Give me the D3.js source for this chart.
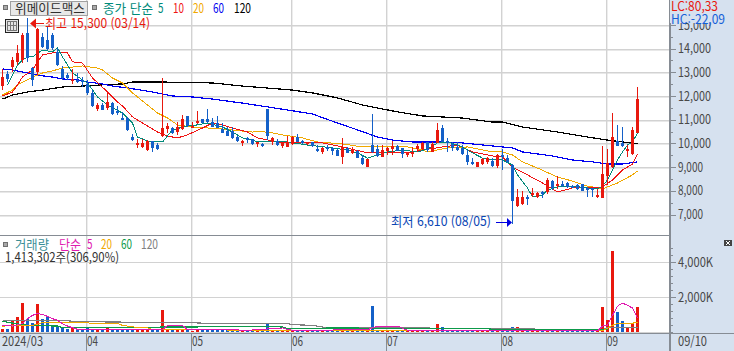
<!DOCTYPE html>
<html lang="ko">

<head>
    <meta charset="UTF-8">
    <title>위메이드맥스</title>
    <script src="https://d3js.org/d3.v7.min.js"></script>
    <style>
        html, body { margin: 0; padding: 0; background: #fff; overflow: hidden; }
        svg { display: block; }
        text { font-family: "Noto Sans CJK KR", sans-serif; font-size: 13px; }
    </style>
</head>

<body>
    <div id="chart"></div>
    <script>
        // candles, one entry per trading day
        const opens = [
            12420, 12930, 13220, 13440, 13520, 14660, 13180, 13010, 14490, 14360,
            14580, 13860, 13140, 12890, 12630, 12680, 12680, 12510, 12130, 11450,
            11620, 11490, 11710, 11370, 11070, 11070, 10270, 9980, 9850, 9720,
            10100, 9930, 10310, 10610, 10650, 10480, 10610, 11160, 10690, 10860,
            11030, 11030, 10900, 10860, 10610, 10520, 10520, 10270, 10060, 10230,
            10190, 10020, 9980, 11450, 10060, 10100, 9890, 9850, 9980, 10270,
            10100, 9980, 10060, 9760, 9640, 9850, 9810, 9720, 9430, 9810,
            9600, 9680, 9380, 9010, 9930, 9760, 9430, 9680, 9760, 9890,
            9810, 9510, 9600, 9760, 9760, 10060, 9640, 10020, 10650, 10100,
            9980, 9850, 9810, 9510, 9220, 9010, 9130, 9220, 9260, 9050,
            9510, 9380, 9090, 7360, 7440, 7740, 7820, 7740, 7950, 7950,
            8410, 8200, 8290, 8330, 8200, 8250, 8290, 8120, 8120, 7740,
            7700, 8630, 9010, 10100, 10020, 9720, 9550, 10440];
        const closes = [
            12800, 12720, 13520, 13820, 14580, 13600, 12680, 14830, 14070, 13980,
            14030, 13310, 12760, 12760, 12720, 12590, 12590, 12130, 11580, 11620,
            11410, 11750, 11240, 11280, 11030, 10570, 10140, 10020, 10020, 10100,
            9810, 9760, 10650, 10740, 10440, 10690, 11030, 10740, 10740, 10950,
            10860, 10900, 10690, 10650, 10440, 10310, 10230, 10100, 10100, 10190,
            9980, 10060, 9890, 10310, 10230, 9930, 10020, 10060, 10270, 10060,
            10020, 10060, 9890, 9680, 9810, 9810, 9680, 9470, 9850, 9600,
            9720, 9380, 9130, 9340, 9640, 9470, 9720, 9810, 9890, 9680,
            9550, 9600, 9640, 9890, 10020, 9720, 9980, 10570, 10060, 10060,
            9810, 9720, 9550, 9220, 9170, 9220, 9340, 9380, 9050, 9510,
            9430, 9220, 7570, 7740, 7740, 7700, 7910, 7910, 7870, 8460,
            8120, 8290, 8250, 8160, 8160, 8080, 7990, 8080, 8030, 7820,
            8710, 9170, 10270, 9890, 9890, 9760, 10570, 11870];
        const highs = [
            13140, 13060, 13650, 14150, 14660, 15300, 13230, 14870, 14660, 14910,
            14660, 14030, 13270, 12970, 13140, 12970, 12800, 12680, 12250, 11710,
            11710, 12130, 11750, 11580, 11330, 11120, 10400, 10190, 10190, 10140,
            10100, 10020, 12760, 10860, 10690, 10900, 11200, 11160, 10900, 11370,
            11030, 11450, 11070, 11160, 10860, 10690, 10690, 10310, 10140, 10270,
            10190, 10060, 10020, 11450, 10270, 10190, 10060, 10310, 10310, 10400,
            10140, 10060, 10060, 9930, 9850, 9930, 9850, 9760, 10230, 9850,
            9850, 9720, 9510, 9340, 11240, 9930, 9930, 9850, 10100, 9930,
            9810, 9640, 9850, 9980, 10060, 10060, 10060, 10860, 10780, 10230,
            10060, 10060, 9930, 9720, 9380, 9220, 9380, 9430, 9380, 9550,
            9760, 9510, 9130, 8080, 7990, 7820, 8120, 7950, 7990, 8540,
            8460, 8630, 8410, 8370, 8250, 8290, 8290, 8160, 8120, 8080,
            9890, 9760, 11280, 10780, 10690, 9930, 10690, 12380];
        const lows = [
            12250, 12590, 13010, 13310, 13390, 13440, 12420, 12890, 14030, 13940,
            13940, 13270, 12680, 12680, 12510, 12550, 12380, 12040, 11540, 11370,
            11410, 11410, 11200, 11200, 10990, 10520, 10100, 9810, 9810, 9680,
            9640, 9720, 10270, 10440, 10400, 10360, 10570, 10690, 10690, 10820,
            10840, 10860, 10690, 10650, 10440, 10310, 10190, 10060, 9890, 10020,
            9930, 9850, 9850, 10140, 9930, 9890, 9810, 9850, 9930, 10060,
            9980, 9930, 9850, 9640, 9550, 9680, 9510, 9470, 9130, 9600,
            9550, 9380, 9090, 9010, 9600, 9430, 9430, 9510, 9510, 9680,
            9380, 9430, 9430, 9640, 9720, 9640, 9640, 10020, 10060, 9640,
            9680, 9680, 9510, 9090, 9090, 9010, 9090, 9130, 9010, 8960,
            8880, 9170, 6610, 7320, 7400, 7400, 7740, 7700, 7700, 7870,
            8030, 8080, 8160, 8120, 8120, 8030, 7990, 7740, 7740, 7700,
            7700, 8250, 8960, 9890, 9850, 9430, 9510, 10440];
        // traded shares, in thousands
        const volumes = [
            190, 150, 610, 860, 1640, 760, 530, 1580, 760, 860,
            380, 290, 230, 150, 290, 190, 190, 290, 190, 190,
            110, 290, 110, 190, 130, 130, 130, 190, 130, 130,
            100, 130, 1240, 190, 150, 190, 190, 150, 60, 100,
            100, 150, 110, 100, 130, 100, 100, 100, 100, 100,
            60, 60, 130, 480, 100, 100, 60, 60, 70, 60,
            70, 60, 60, 60, 70, 60, 70, 60, 230, 70,
            60, 60, 60, 70, 1460, 130, 100, 100, 100, 100,
            60, 60, 60, 60, 60, 70, 60, 440, 270, 130,
            130, 130, 100, 100, 60, 60, 60, 60, 60, 60,
            60, 60, 270, 270, 110, 100, 100, 100, 60, 60,
            60, 60, 60, 60, 60, 60, 60, 60, 60, 60,
            1410, 670, 4620, 1120, 610, 210, 440, 1413];

        // moving averages: [candle index, value]
        const priceMa5 = [[1, 12470], [2, 12890], [3, 13310], [4, 13520], [5, 13650], [6, 13650], [8, 13940], [10, 13860], [11, 14030], [12, 13650], [13, 13310], [14, 12970], [16, 12680], [17, 12550], [19, 11960], [21, 11620], [24, 11280], [26, 10860], [27, 10270], [29, 10100], [32, 10060], [34, 10570], [37, 10740], [39, 10780], [41, 10860], [44, 10690], [46, 10480], [48, 10230], [50, 10140], [51, 10060], [57, 10060], [61, 9930], [66, 9810], [69, 9720], [71, 9600], [73, 9380], [75, 9510], [77, 9640], [80, 9720], [83, 9640], [85, 9760], [87, 10020], [89, 10060], [92, 9850], [94, 9600], [96, 9380], [98, 9300], [100, 9300], [102, 9090], [103, 8670], [105, 8120], [106, 7740], [108, 7820], [109, 8030], [111, 8160], [114, 8200], [117, 8120], [119, 8080], [120, 8200], [121, 8460], [122, 8880], [123, 9300], [124, 9640], [125, 9930], [126, 10060], [127, 10440]];
        const priceMa10 = [[0, 12000], [2, 12170], [3, 12470], [4, 12800], [6, 13100], [7, 13440], [8, 13730], [10, 13820], [11, 13860], [13, 13820], [14, 13440], [16, 13390], [18, 12760], [21, 12170], [23, 11750], [24, 11580], [26, 11120], [28, 10860], [31, 10480], [33, 10310], [35, 10230], [37, 10360], [40, 10650], [42, 10860], [44, 10780], [46, 10650], [49, 10480], [51, 10230], [55, 10060], [58, 10020], [64, 10020], [68, 9850], [73, 9600], [77, 9600], [81, 9600], [84, 9720], [88, 9850], [91, 9930], [94, 9640], [98, 9470], [100, 9430], [102, 9000], [105, 8670], [108, 8330], [111, 7950], [114, 8120], [117, 8120], [120, 8160], [122, 8460], [124, 8880], [126, 9130], [127, 9550]];
        const priceMa20 = [[0, 12040], [2, 12250], [3, 12470], [5, 12680], [6, 12800], [8, 12970], [10, 13060], [12, 13180], [14, 13220], [16, 13270], [19, 13180], [20, 13100], [22, 12760], [24, 12550], [26, 12130], [29, 11620], [31, 11280], [33, 11070], [35, 10780], [38, 10690], [41, 10650], [44, 10610], [48, 10520], [50, 10480], [51, 10520], [54, 10440], [56, 10360], [60, 10230], [63, 10060], [68, 9980], [72, 9850], [77, 9850], [81, 9850], [84, 9720], [85, 9640], [89, 9810], [93, 9850], [98, 9640], [100, 9640], [102, 9510], [104, 9220], [107, 8960], [111, 8580], [114, 8410], [117, 8200], [120, 8080], [123, 8330], [126, 8670], [127, 8840]];
        const priceMa60 = [[0, 13140], [2, 13100], [4, 13010], [6, 12930], [8, 12850], [10, 12800], [12, 12720], [15, 12680], [17, 12590], [20, 12510], [22, 12420], [25, 12340], [30, 12170], [34, 12000], [38, 11960], [42, 11870], [48, 11700], [53, 11540], [57, 11410], [62, 11240], [67, 10860], [71, 10570], [75, 10270], [78, 10140], [82, 10060], [87, 10060], [92, 10020], [98, 9890], [100, 9850], [102, 9810], [104, 9640], [110, 9470], [114, 9300], [118, 9220], [121, 9130], [124, 9130], [127, 9220]];
        const priceMa120 = [[0, 11870], [2, 12040], [5, 12170], [8, 12250], [12, 12380], [16, 12420], [20, 12470], [24, 12510], [26, 12590], [32, 12590], [42, 12550], [48, 12420], [58, 12250], [62, 12130], [67, 11920], [72, 11620], [79, 11330], [84, 11160], [92, 11070], [98, 10900], [100, 10900], [104, 10690], [111, 10480], [117, 10270], [121, 10140], [124, 10060], [127, 9980]];
        const volMa5 = [[0, 380], [2, 340], [4, 480], [5, 760], [6, 950], [7, 1050], [8, 1010], [9, 890], [10, 760], [11, 670], [12, 480], [13, 340], [14, 250], [15, 150], [19, 130], [23, 130], [32, 130], [33, 380], [36, 380], [37, 130], [46, 130], [49, 95], [56, 230], [57, 150], [58, 95], [73, 130], [75, 340], [79, 340], [81, 95], [87, 60], [93, 95], [97, 60], [119, 60], [120, 340], [121, 380], [122, 950], [123, 1480], [124, 1650], [125, 1520], [126, 1370], [127, 800]];
        const volMa20 = [[0, 340], [6, 380], [8, 530], [17, 530], [18, 480], [23, 480], [24, 380], [25, 340], [27, 250], [29, 250], [30, 130], [32, 150], [37, 150], [49, 95], [74, 95], [97, 60], [120, 60], [122, 380], [123, 480], [126, 500], [127, 570]];
        const volMa60 = [[0, 610], [2, 510], [5, 380], [11, 340], [12, 250], [29, 250], [32, 285], [37, 285], [49, 320], [53, 320], [56, 285], [57, 190], [64, 190], [65, 230], [97, 190], [98, 150], [121, 150]];
        const volMa120 = [[0, 670], [12, 670], [15, 590], [23, 570], [30, 530], [38, 530], [42, 480], [57, 480], [58, 420], [62, 380], [64, 290], [65, 230], [83, 230], [97, 190], [120, 130], [121, 250], [127, 250]];

        const priceTicks = [7000, 8000, 9000, 10000, 11000, 12000, 13000, 14000, 15000];
        const priceMinorTicks = [7500, 8500, 9500, 10500, 11500, 12500, 13500, 14500];
        const volumeTicks = [2000, 4000];
        const volumeMinorTicks = [0, 400, 800, 1200, 1600, 2400, 2800, 3200, 3600, 4400, 4800];
        const monthLabels = ["2024/03", "04", "05", "06", "07", "08", "09"];
        // candle index where each month begins (a gridline sits just left of it)
        const monthStarts = [0, 17, 38, 58, 77, 100, 121];

        const width = 734, height = 351;
        const plotRight = 669, priceBottom = 235, volumeBottom = 333;

        const RED = "#e8180e", BLUE = "#1460c8", GRID = "#d2d2d2", AXIS = "#868c94", PANEL = "#d6e1ef", LABEL = "#484848";

        const x = d3.scaleLinear().domain([0, 127]).range([2.5, 637.5]);
        const y = d3.scaleLinear().domain([7000, 12000]).range([214.5, 96]);
        const yVol = d3.scaleLinear().domain([0, 4000]).range([332, 262]);

        const svg = d3.select("#chart").append("svg")
            .attr("width", width)
            .attr("height", height);

        // w squeezes the glyphs to the width the text has in the reference
        function addText(tx, ty, s, color, w) {
            const t = svg.append("text")
                .attr("x", tx)
                .attr("y", ty)
                .attr("fill", color)
                .text(s);
            if (w) t.attr("textLength", w).attr("lengthAdjust", "spacingAndGlyphs");
            return t;
        }

        svg.append("rect").attr("width", width).attr("height", height).attr("fill", "#fff");
        // axis strips
        svg.append("rect").attr("x", plotRight).attr("width", width - plotRight).attr("height", height).attr("fill", PANEL);
        svg.append("rect").attr("y", volumeBottom).attr("width", width).attr("height", height - volumeBottom).attr("fill", PANEL);

        // gridlines
        const grid = svg.append("g").attr("stroke", GRID).attr("stroke-width", 1).attr("shape-rendering", "crispEdges");
        priceTicks.forEach(function (t) {
            grid.append("line").attr("x1", 0).attr("x2", plotRight).attr("y1", Math.round(y(t)) + 0.5).attr("y2", Math.round(y(t)) + 0.5);
            grid.append("line").attr("x1", 0).attr("x2", plotRight).attr("y1", Math.round(y(t)) + 1.5).attr("y2", Math.round(y(t)) + 1.5).attr("stroke-opacity", 0.5);
        });
        [0].concat(volumeTicks).forEach(function (t) {
            grid.append("line").attr("x1", 0).attr("x2", plotRight).attr("y1", Math.round(yVol(t)) + 0.5).attr("y2", Math.round(yVol(t)) + 0.5);
        });
        monthStarts.slice(1).forEach(function (i) {
            const mx = Math.round(x(i)) - 2;
            grid.append("line").attr("x1", mx + 0.5).attr("x2", mx + 0.5).attr("y1", 0).attr("y2", volumeBottom);
            grid.append("line").attr("x1", mx + 1.5).attr("x2", mx + 1.5).attr("y1", 0).attr("y2", volumeBottom).attr("stroke-opacity", 0.4);
        });

        const price = opens.map(function (o, i) {
            return { i: i, open: o, close: closes[i], high: highs[i], low: lows[i], vol: volumes[i] };
        });
        const colorOf = function (d) { return d.close >= d.open ? RED : BLUE; };

        function drawLine(points, scale, color, sw) {
            svg.append("path")
                .datum(points)
                .attr("fill", "none")
                .attr("stroke", color)
                .attr("stroke-width", sw)
                .attr("shape-rendering", "crispEdges")
                .attr("d", d3.line()
                    .x(function (d) { return x(d[0]); })
                    .y(function (d) { return scale(d[1]); }));
        }

        // price moving averages sit under the candles
        drawLine(priceMa120, y, "#000", 1.2);
        drawLine(priceMa60, y, "#0000f0", 1.2);
        drawLine(priceMa20, y, "#f0a800", 1);
        drawLine(priceMa10, y, "#f01414", 1);
        drawLine(priceMa5, y, "#008a7a", 1);

        const candles = svg.append("g").attr("shape-rendering", "crispEdges");
        candles.selectAll(".wick")
            .data(price)
            .enter()
            .append("line")
            .attr("class", "wick")
            .attr("x1", function (d) { return x(d.i); })
            .attr("x2", function (d) { return x(d.i); })
            .attr("y1", function (d) { return y(d.high); })
            .attr("y2", function (d) { return y(d.low); })
            .attr("stroke", colorOf);
        candles.selectAll(".body")
            .data(price)
            .enter()
            .append("rect")
            .attr("class", "body")
            .attr("x", function (d) { return x(d.i) - 1.5; })
            .attr("y", function (d) { return Math.round(y(Math.max(d.open, d.close))); })
            .attr("width", 3)
            .attr("height", function (d) { return Math.max(2, Math.round(Math.abs(y(d.open) - y(d.close)))); })
            .attr("fill", colorOf);

        // volume
        svg.append("g").attr("shape-rendering", "crispEdges").selectAll("rect")
            .data(price)
            .enter()
            .append("rect")
            .attr("x", function (d) { return x(d.i) - 1.5; })
            .attr("y", function (d) { return Math.round(yVol(d.vol)); })
            .attr("width", 3)
            .attr("height", function (d) { return Math.round(yVol(0)) - Math.round(yVol(d.vol)); })
            .attr("fill", colorOf);
        drawLine(volMa120, yVol, "#808080", 1.2);
        drawLine(volMa60, yVol, "#0d9a4a", 1.2);
        drawLine(volMa20, yVol, "#f0a800", 1);
        drawLine(volMa5, yVol, "#e01ab0", 1);

        // panel frame
        const frame = svg.append("g").attr("stroke", AXIS).attr("shape-rendering", "crispEdges");
        frame.append("line").attr("x1", 0).attr("x2", plotRight).attr("y1", priceBottom + 0.5).attr("y2", priceBottom + 0.5);
        frame.append("line").attr("x1", 0).attr("x2", width).attr("y1", volumeBottom + 0.5).attr("y2", volumeBottom + 0.5);
        frame.append("line").attr("x1", plotRight + 0.5).attr("x2", plotRight + 0.5).attr("y1", 0).attr("y2", height).attr("stroke-width", 2);
        monthStarts.slice(1).forEach(function (i) {
            const mx = Math.round(x(i)) - 2;
            frame.append("line").attr("x1", mx + 0.5).attr("x2", mx + 0.5).attr("y1", volumeBottom).attr("y2", height);
        });

        // right axes
        function rightAxis(scale, ticks, format, size, labelWidth) {
            const g = svg.append("g")
                .attr("transform", "translate(" + (plotRight + 1) + ",0)")
                .call(d3.axisRight(scale).tickValues(ticks).tickSize(size).tickPadding(2).tickFormat(format));
            g.select(".domain").remove();
            g.selectAll("line").attr("stroke", AXIS).attr("shape-rendering", "crispEdges");
            g.selectAll("text").attr("fill", LABEL);
            if (labelWidth) {
                g.selectAll("text")
                    .attr("textLength", function (d) { return d < 10000 && scale === y ? labelWidth - 8 : labelWidth; })
                    .attr("lengthAdjust", "spacingAndGlyphs");
            }
            return g;
        }
        rightAxis(y, priceTicks, d3.format(","), 6, 33);
        rightAxis(y, priceMinorTicks, function () { return ""; }, 3);
        rightAxis(yVol, volumeTicks, function (d) { return d3.format(",")(d) + "K"; }, 6, 35);
        rightAxis(yVol, volumeMinorTicks, function () { return ""; }, 3);

        // x labels
        monthLabels.forEach(function (m, k) {
            const lx = k === 0 ? 2 : Math.round(x(monthStarts[k])) - 1;
            addText(lx, 346, m, LABEL, k === 0 ? 41 : 11);
        });
        addText(678, 346, "09/10", LABEL, 29);

        function square(sx, sy) {
            svg.append("rect").attr("x", sx + 0.5).attr("y", sy + 0.5).attr("width", 4).attr("height", 4)
                .attr("fill", "#a8a8a8").attr("stroke", "#707070").attr("shape-rendering", "crispEdges");
        }

        // top legend
        square(3, 5);
        svg.append("rect").attr("x", 10.5).attr("y", 1.5).attr("width", 77).attr("height", 14)
            .attr("fill", "#e8e8e8").attr("stroke", "#a0a0a0").attr("shape-rendering", "crispEdges");
        addText(15, 13, "위메이드맥스", "#303030", 70);
        square(92, 5);
        addText(103, 13, "종가 단순", "#008a7a", 50);
        addText(158, 13, "5", "#008a7a", 5.5);
        addText(173, 13, "10", "#f01414", 11);
        addText(193, 13, "20", "#f0a800", 11);
        addText(213, 13, "60", "#0000f0", 11);
        addText(234, 13, "120", "#000", 17);

        // table icon
        const icon = svg.append("g").attr("shape-rendering", "crispEdges");
        icon.append("rect").attr("x", 5.5).attr("y", 19.5).attr("width", 13).attr("height", 13).attr("fill", "#e4e4e4").attr("stroke", "#222");
        icon.append("rect").attr("x", 7.5).attr("y", 21.5).attr("width", 9).attr("height", 9).attr("fill", "none").attr("stroke", "#777");
        icon.append("line").attr("x1", 10.5).attr("x2", 10.5).attr("y1", 22).attr("y2", 30).attr("stroke", "#777");
        icon.append("line").attr("x1", 13.5).attr("x2", 13.5).attr("y1", 22).attr("y2", 30).attr("stroke", "#777");
        icon.append("line").attr("x1", 8).attr("x2", 16).attr("y1", 25.5).attr("y2", 25.5).attr("stroke", "#777");

        // high / low notes
        svg.append("path").attr("fill", RED).attr("d", d3.line()([[30, 23.5], [36, 18.5], [36, 28.5]]));
        svg.append("line").attr("x1", 36).attr("x2", 44).attr("y1", 23.5).attr("y2", 23.5).attr("stroke", RED);
        addText(45, 28, "최고 15,300 (03/14)", RED, 105);

        addText(391, 226, "최저 6,610 (08/05)", "#0a46b4", 100);
        svg.append("path").attr("fill", "#0000e0").attr("d", d3.line()([[512, 222.5], [507, 218], [507, 227]]));
        svg.append("line").attr("x1", 496).attr("x2", 507).attr("y1", 222.5).attr("y2", 222.5).attr("stroke", "#0000e0");

        // LC / HC box covers the top of the axis
        svg.append("rect").attr("x", plotRight + 1).attr("width", width - plotRight - 1).attr("height", 23).attr("fill", PANEL);
        addText(671, 11, "LC:80,33", RED, 47);
        addText(671, 24, "HC:-22,09", "#1560d8", 54);

        // volume legend
        square(3, 242);
        addText(15, 249, "거래량", "#3a8e96", 34);
        addText(59, 249, "단순", "#e01ab0", 22);
        addText(87, 249, "5", "#e01ab0", 5.5);
        addText(101, 249, "20", "#f0a800", 11);
        addText(121, 249, "60", "#0d9a4a", 11);
        addText(141, 249, "120", "#808080", 17);
        addText(5, 262, "1,413,302주(306,90%)", "#333", 114);

        // collapse button
        svg.append("rect").attr("x", 724).attr("y", 240).attr("width", 8).attr("height", 6).attr("fill", "#444");
        svg.append("path").attr("stroke", "#fff").attr("d", "M726,241L730,245M730,241L726,245");
    </script>
</body>

</html>
